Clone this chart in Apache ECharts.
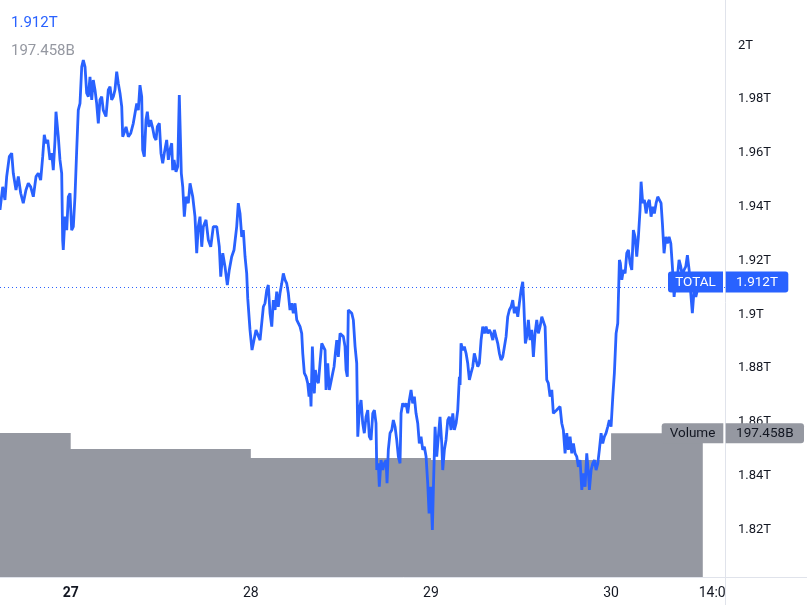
<!DOCTYPE html>
<html><head><meta charset="utf-8">
<script src="https://cdn.jsdelivr.net/npm/echarts@6/dist/echarts.min.js"></script>
<style>html,body{margin:0;padding:0;background:#fff}#c{width:807px;height:605px}</style>
</head><body><div id="c"></div><script>
// time in hours from 27th 00:00
const hours = [-9.42,-9.06,-8.76,-8.53,-8.18,-7.86,-7.65,-7.29,-6.98,-6.66,-6.32,-5.96,-5.65,-5.33,-4.98,-4.62,-4.32,-4.00,-3.73,-3.52,-3.29,-3.06,-2.76,-2.53,-2.32,-2.09,-1.96,-1.65,-1.43,-1.20,-1.07,-0.99,-0.76,-0.53,-0.32,-0.09,
0.13,0.35,0.57,0.80,1.01,1.24,1.47,1.68,1.91,2.13,2.35,2.57,2.80,3.01,3.24,3.46,3.68,3.90,4.13,4.34,4.70,5.01,5.24,5.46,5.68,5.90,6.13,6.34,6.57,6.80,6.93,7.10,7.37,7.68,8.00,8.34,8.57,8.80,9.01,9.23,9.46,9.59,9.81,10.03,10.21,10.43,10.66,10.93,11.14,11.37,11.54,11.81,12.03,12.26,12.47,12.79,13.01,13.23,13.46,13.59,13.77,14.03,14.26,14.47,14.61,14.74,14.93,15.14,15.36,15.67,15.90,16.26,16.56,16.79,17.00,17.23,17.46,17.67,18.03,18.34,18.66,19.00,19.46,19.80,19.99,20.26,20.56,20.87,21.13,21.45,21.76,22.12,22.33,22.56,22.79,23.00,23.23,23.45,23.59,23.89,
24.16,24.69,25.23,25.67,25.89,26.12,26.33,26.56,26.79,27.00,27.23,27.45,27.66,27.89,28.12,28.33,28.56,28.78,29.00,29.22,29.45,29.66,29.89,30.12,30.33,30.56,30.78,30.92,31.13,31.36,31.58,31.76,31.89,32.02,32.20,32.33,32.46,32.60,32.78,33.00,33.22,33.45,33.66,33.89,34.02,34.25,34.46,34.69,34.91,35.09,35.26,35.45,35.66,35.89,36.11,36.33,36.55,36.69,36.86,36.99,37.22,37.45,37.66,37.89,38.11,38.25,38.46,38.69,38.91,39.12,39.35,39.58,39.79,40.02,40.25,40.46,40.68,40.78,40.99,41.12,41.35,41.58,41.79,42.02,42.15,42.32,42.55,42.78,42.99,43.22,43.44,43.66,43.88,44.02,44.24,44.46,44.68,44.91,45.12,45.35,45.57,45.79,46.01,46.24,46.45,46.68,46.91,47.12,47.35,47.57,47.75,47.97,
48.19,48.32,48.55,48.77,48.99,49.21,49.44,49.57,49.79,50.01,50.24,50.45,50.68,50.91,51.12,51.35,51.57,51.79,51.88,52.01,52.24,52.45,52.68,52.90,53.12,53.34,53.57,53.78,54.01,54.24,54.45,54.68,54.90,55.12,55.34,55.57,55.78,56.01,56.24,56.45,56.67,56.90,57.12,57.34,57.57,57.78,58.01,58.23,58.45,58.68,58.90,59.11,59.34,59.57,59.78,60.01,60.23,60.37,60.58,60.77,60.98,61.21,61.43,61.65,61.87,62.10,62.31,62.54,62.77,62.98,63.21,63.43,63.64,63.87,64.10,64.31,64.54,64.76,64.98,65.20,65.43,65.64,65.87,66.10,66.31,66.54,66.76,66.98,67.20,67.43,67.64,67.87,68.10,68.31,68.54,68.76,68.98,69.11,69.34,69.56,69.78,70.00,70.23,70.44,70.67,70.89,71.11,71.33,71.56,71.77,
72.00,72.23,72.44,72.67,72.89,73.11,73.24,73.43,73.64,73.87,74.09,74.31,74.53,74.76,74.97,75.20,75.42,75.64,75.86,76.00,76.22,76.44,76.67,76.89,77.10,77.33,77.56,77.77,78.00,78.22,78.44,78.66,78.84,79.06,79.29,79.50,79.73,79.96,80.17,80.40,80.62,80.84,81.06,81.29,81.50,81.73,81.95,82.17,82.40,82.62,82.83,83.06,83.29,83.50,83.69,84.22];
// TOTAL market cap, trillions
const totalCap = [1.9388,1.9474,1.9425,1.9512,1.9586,1.9599,1.9524,1.9462,1.9512,1.9450,1.9413,1.9462,1.9487,1.9474,1.9437,1.9512,1.9524,1.9499,1.9586,1.9667,1.9636,1.9648,1.9574,1.9599,1.9536,1.9648,1.9753,1.9660,1.9574,1.9524,1.9276,1.9239,1.9363,1.9313,1.9437,1.9450,
1.9313,1.9326,1.9437,1.9611,1.9759,1.9784,1.9920,1.9945,1.9920,1.9822,1.9809,1.9883,1.9797,1.9871,1.9834,1.9784,1.9710,1.9797,1.9809,1.9759,1.9735,1.9834,1.9846,1.9797,1.9809,1.9834,1.9902,1.9859,1.9822,1.9772,1.9660,1.9673,1.9697,1.9660,1.9673,1.9710,1.9747,1.9784,1.9759,1.9852,1.9809,1.9611,1.9586,1.9722,1.9753,1.9697,1.9722,1.9691,1.9660,1.9648,1.9697,1.9710,1.9599,1.9561,1.9599,1.9648,1.9574,1.9611,1.9636,1.9536,1.9574,1.9530,1.9549,1.9815,1.9809,1.9524,1.9474,1.9363,1.9437,1.9413,1.9487,1.9437,1.9363,1.9227,1.9326,1.9363,1.9251,1.9326,1.9351,1.9276,1.9251,1.9326,1.9326,1.9251,1.9140,1.9227,1.9177,1.9109,1.9165,1.9214,1.9239,1.9326,1.9413,1.9375,1.9288,1.9313,1.9214,1.9152,1.9059,1.8942,
1.8867,1.8942,1.8904,1.9028,1.9041,1.9090,1.9109,1.9004,1.8954,1.9053,1.9016,1.9084,1.9028,1.9078,1.9115,1.9152,1.9128,1.9115,1.9078,1.9016,1.9041,1.9004,1.9041,1.8979,1.8967,1.8954,1.8929,1.8855,1.8781,1.8768,1.8744,1.8694,1.8744,1.8657,1.8880,1.8793,1.8706,1.8793,1.8756,1.8744,1.8818,1.8892,1.8892,1.8867,1.8719,1.8818,1.8719,1.8719,1.8781,1.8805,1.8855,1.8904,1.8842,1.8929,1.8929,1.8917,1.8880,1.8793,1.8768,1.9016,1.9010,1.9004,1.8979,1.8880,1.8818,1.8545,1.8644,1.8681,1.8595,1.8558,1.8619,1.8644,1.8545,1.8533,1.8632,1.8644,1.8595,1.8421,1.8446,1.8359,1.8458,1.8421,1.8446,1.8458,1.8372,1.8496,1.8558,1.8570,1.8607,1.8582,1.8533,1.8471,1.8446,1.8632,1.8669,1.8657,1.8669,1.8632,1.8681,1.8719,1.8669,1.8694,1.8632,1.8595,1.8520,1.8545,1.8496,1.8508,1.8471,1.8372,1.8260,1.8359,
1.8198,1.8347,1.8582,1.8471,1.8545,1.8619,1.8520,1.8421,1.8496,1.8533,1.8607,1.8619,1.8570,1.8632,1.8570,1.8595,1.8644,1.8768,1.8737,1.8892,1.8867,1.8880,1.8855,1.8818,1.8756,1.8781,1.8805,1.8855,1.8830,1.8805,1.8818,1.8904,1.8954,1.8929,1.8954,1.8929,1.8942,1.8929,1.8904,1.8942,1.8917,1.8892,1.8855,1.8830,1.8842,1.8842,1.8917,1.8991,1.9016,1.9028,1.9053,1.9004,1.9028,1.8991,1.9041,1.9090,1.9121,1.9041,1.8892,1.8917,1.8979,1.8904,1.8942,1.8842,1.8929,1.8979,1.8929,1.8954,1.8991,1.8991,1.8954,1.8756,1.8744,1.8694,1.8719,1.8632,1.8632,1.8644,1.8644,1.8657,1.8595,1.8570,1.8483,1.8558,1.8496,1.8545,1.8483,1.8520,1.8483,1.8471,1.8433,1.8458,1.8347,1.8409,1.8359,1.8483,1.8409,1.8347,1.8421,1.8446,1.8458,1.8421,1.8446,1.8496,1.8558,1.8520,1.8545,1.8558,1.8582,1.8607,
1.8582,1.8694,1.8781,1.8929,1.8967,1.9202,1.9190,1.9128,1.9165,1.9152,1.9227,1.9239,1.9190,1.9165,1.9313,1.9288,1.9214,1.9288,1.9388,1.9493,1.9413,1.9425,1.9375,1.9413,1.9425,1.9363,1.9400,1.9375,1.9413,1.9437,1.9425,1.9413,1.9338,1.9227,1.9288,1.9264,1.9288,1.9264,1.9177,1.9065,1.9128,1.9140,1.9202,1.9177,1.9140,1.9165,1.9177,1.9220,1.9165,1.9078,1.9004,1.9090,1.9065,1.9090,1.9103,1.912];
// daily volume (billions), step starts in hours
const volumeStart = [-9.42, 0, 24, 48, 72];
const volumeB = [197.9, 175.9, 163.6, 160.8, 197.458];
const priceTicks = [1.82, 1.84, 1.86, 1.88, 1.9, 1.92, 1.94, 1.96, 1.98, 2.0];
const dayTicks = [0, 24, 48, 72];
const dayLabels = ['27', '28', '29', '30'];
const timeTick = 86;
const timeLabel = '14:00';
const seriesName = 'TOTAL';
const volumeName = 'Volume';

const BLUE = '#2962ff', GREY = '#9598a1', TEXT = '#131722', LINEC = '#e0e3eb', FONT = 'Roboto';
const xMin = -9.42, xMax = 87.18, priceMin = 1.80223, priceMax = 2.01684, volMax = 791.6;

const lastPrice = totalCap[totalCap.length - 1];
const lastVol = volumeB[volumeB.length - 1];
const priceData = hours.map((h, i) => [h, totalCap[i]]);
const volData = volumeStart.map((h, i) => [h, volumeB[i]]).concat([[hours[hours.length - 1], lastVol]]);

const chart = echarts.init(document.getElementById('c'), null, {renderer: 'canvas'});
chart.setOption({
  animation: false,
  backgroundColor: '#ffffff',
  grid: {left: 0, right: 82, top: 0, bottom: 27.7},
  xAxis: {
    type: 'value', min: xMin, max: xMax,
    axisLine: {show: false}, axisTick: {show: false}, splitLine: {show: false},
    axisLabel: {
      customValues: dayTicks.concat([timeTick]),
      margin: 9, fontFamily: FONT, fontSize: 14, color: TEXT,
      formatter: function (v) {
        const i = dayTicks.indexOf(v);
        if (i === 0) return '{b|' + dayLabels[0] + '}';
        if (i > 0) return dayLabels[i];
        return timeLabel;
      },
      rich: {b: {fontWeight: 'bold', fontFamily: FONT, fontSize: 14, color: TEXT}}
    }
  },
  yAxis: [{
    type: 'value', position: 'right', min: priceMin, max: priceMax,
    axisLine: {show: false}, axisTick: {show: false}, splitLine: {show: false},
    axisLabel: {
      customValues: priceTicks, margin: 13, fontFamily: FONT, fontSize: 13, color: TEXT,
      formatter: v => parseFloat(v.toFixed(2)) + 'T'
    }
  }, {
    type: 'value', min: 0, max: volMax, show: false
  }],
  series: [{
    name: volumeName, type: 'line', yAxisIndex: 1, step: 'end', symbol: 'none', silent: true,
    lineStyle: {width: 0}, areaStyle: {color: GREY, opacity: 1}, z: 1, data: volData
  }, {
    name: seriesName, type: 'line', yAxisIndex: 0, symbol: 'none', silent: true,
    lineStyle: {color: BLUE, width: 2.8}, z: 3, data: priceData,
    markLine: {
      symbol: 'none', silent: true, label: {show: false},
      lineStyle: {color: BLUE, width: 1, type: [1, 3]},
      data: [{yAxis: lastPrice}]
    }
  }]
});

const xR = chart.convertToPixel({xAxisIndex: 0}, xMax);
const yBase = chart.convertToPixel({yAxisIndex: 1}, 0);
const yP = chart.convertToPixel({yAxisIndex: 0}, lastPrice);
const yV = chart.convertToPixel({yAxisIndex: 1}, lastVol);
const xs = Math.round(xR) + 0.5, ys = Math.round(yBase) + 0.5;

function txt(x, y, s, fill, size, align) {
  return {type: 'text', x: x, y: y, z: 120, silent: true,
    style: {text: s, fill: fill, fontSize: size, fontFamily: FONT, align: align || 'center', verticalAlign: 'middle'}};
}
chart.setOption({
  graphic: [
    {type: 'rect', z: 90, silent: true, shape: {x: xs + 0.5, y: ys + 0.5, width: 807, height: 605}, style: {fill: '#fff'}},
    {type: 'line', z: 95, silent: true, shape: {x1: xs, y1: 0, x2: xs, y2: 605}, style: {stroke: LINEC, lineWidth: 1}},
    {type: 'line', z: 95, silent: true, shape: {x1: 0, y1: ys, x2: 807, y2: ys}, style: {stroke: LINEC, lineWidth: 1}},
    // price label
    {type: 'rect', z: 110, silent: true, shape: {x: xR - 57, y: yP - 10.5, width: 55, height: 21, r: [3, 0, 0, 3]}, style: {fill: BLUE}},
    {type: 'rect', z: 110, silent: true, shape: {x: xR + 0.7, y: yP - 10.5, width: 62.6, height: 21, r: [0, 3, 3, 0]}, style: {fill: BLUE}},
    txt(xR - 29.5, yP + 0.5, seriesName, '#ffffff', 13.5),
    txt(xR + 32, yP + 0.5, lastPrice.toFixed(3) + 'T', '#ffffff', 13.5),
    // volume label
    {type: 'rect', z: 110, silent: true, shape: {x: xR - 63.3, y: yV - 10, width: 61.6, height: 20, r: [3, 0, 0, 3]}, style: {fill: GREY}},
    {type: 'rect', z: 110, silent: true, shape: {x: xR + 0.7, y: yV - 10, width: 78.3, height: 20, r: [0, 3, 3, 0]}, style: {fill: GREY}},
    txt(xR - 32.5, yV + 0.5, volumeName, TEXT, 13.5),
    txt(xR + 39.8, yV + 0.5, lastVol.toFixed(3) + 'B', TEXT, 13.5),
    // legend
    txt(11, 22.8, lastPrice.toFixed(3) + 'T', BLUE, 15, 'left'),
    txt(11, 51.2, lastVol.toFixed(3) + 'B', GREY, 15, 'left')
  ]
});
</script></body></html>
